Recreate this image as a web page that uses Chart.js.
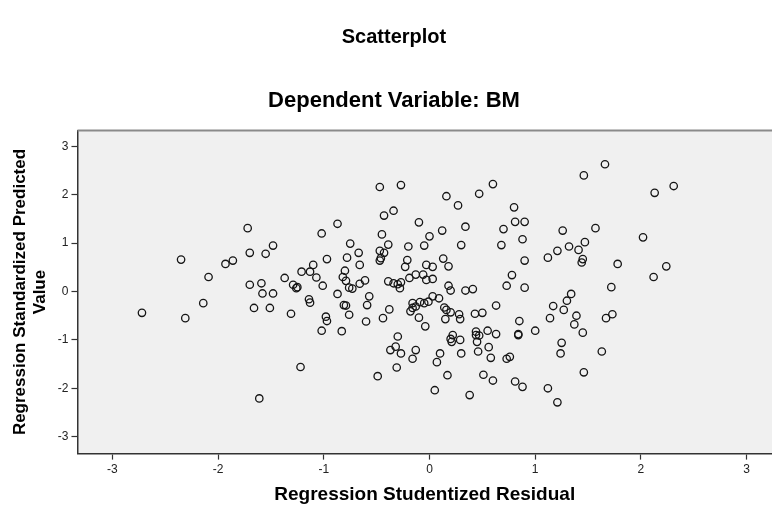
<!DOCTYPE html>
<html>
<head>
<meta charset="utf-8">
<script src="https://cdn.jsdelivr.net/npm/chart.js@4"></script>
<style>
  html, body { margin: 0; padding: 0; background: #fff; }
</style>
</head>
<body>
<canvas id="my-chart" width="772" height="505"></canvas>
<script>
// x: Regression Studentized Residual, y: Regression Standardized Predicted Value
const residuals = [
  -1.72, -1.70, -2.35, -1.93, -1.86, -2.09, -1.70,
  -2.72, -2.31, -2.14, -1.66, -1.61,
  -0.47, -0.27, -0.43, -0.34, -0.10, -0.87, -1.02, -0.45, -0.75, -0.39, -0.20, -0.05,
  -1.48, -1.55, -0.67, -0.47, -0.43, -0.78, -0.97, -0.66, -0.47, -0.46, -0.21, -0.23,
  -0.03, -1.10, -1.13, -1.21, -1.07, -0.80, -0.82, -0.79, -0.76, -0.73, -0.61, -0.66,
  -1.37, -1.59, -1.29, -1.25, -1.26, -1.01, -0.39, -0.34, -0.30, -0.27, -0.28, -0.19,
  -0.13, -0.06, -0.03, -1.58, -1.48, -0.87, -0.57,
  -1.51, -1.31, -1.14, -1.13, -0.98, -0.97, -1.02, -0.83, -0.81, -0.79, -0.76, -0.59,
  -0.60, -0.44, -0.38, -0.30, -0.32, -0.37, -0.27, -0.13, -0.16, -0.31, -0.49, -1.22,
  -0.16, -0.09, -0.13, -0.16, -0.18, -0.05, -0.10, -0.04,
  0.16, 0.47, 0.60, 0.27, 0.80, 0.81, 0.90, 1.46, 1.66, 0.00, 0.12, 0.34, 0.70, 0.88,
  1.26, 1.57, 0.30, 0.68, 0.13, 0.18, 0.03, 0.03, 0.90, 1.12, 1.21, 1.32, 1.47, 1.41,
  1.45, 1.44, 0.78, 0.73, 0.90, 0.18, 0.20, 0.34, 0.41, 1.34,
  0.03, 0.09, -0.01, 0.14, 0.16, 0.20, 0.15, 0.28, 0.29, 0.43, 0.50, 0.63, 0.22, 0.20,
  0.21, 0.29, 0.44, 0.44, 0.47, 0.45, 0.55, 0.63, 0.85, 0.84, 0.84, 1.00, 1.14, 1.17,
  1.27, 1.30, 1.39, 1.37, 1.45, 1.25, 1.24, 1.63, 0.10, 0.07, 0.30, 0.46, 0.56, 0.58,
  0.73, 0.76, 0.17, 0.51, 0.60, 0.81, 0.88, 1.12, 1.21, 1.46, 0.05, 0.38,
  2.13, 2.31, 2.02, 1.78, 2.24, 2.12, 1.72, 1.67, 1.73
];
const predicted = [
  1.31, 0.80, 0.66, 0.57, 0.64, 0.30, 0.14,
  -0.44, -0.55, -0.24, -0.34, -2.21,
  2.16, 2.20, 1.57, 1.67, 1.43, 1.40, 1.20, 1.18, 0.99, 0.97, 0.93, 0.95,
  0.95, 0.78, 0.80, 0.84, 0.80, 0.70, 0.67, 0.55, 0.64, 0.69, 0.65, 0.51,
  0.55, 0.55, 0.41, 0.41, 0.29, 0.43, 0.30, 0.22, 0.08, 0.06, 0.23, 0.16,
  0.28, 0.17, 0.14, 0.09, 0.07, 0.12, 0.21, 0.17, 0.15, 0.19, 0.07, 0.28,
  0.35, 0.35, 0.24, -0.04, -0.04, -0.05, -0.10,
  -0.34, -0.46, -0.16, -0.23, -0.52, -0.61, -0.81, -0.82, -0.28, -0.29, -0.48, -0.28,
  -0.62, -0.55, -0.37, -0.93, -1.14, -1.21, -1.28, -1.21, -1.39, -1.57, -1.75, -1.56,
  -0.24, -0.22, -0.31, -0.34, -0.41, -0.24, -0.54, -0.72,
  1.97, 2.02, 2.22, 1.78, 1.74, 1.44, 1.44, 2.40, 2.63, 1.14, 1.26, 1.34, 1.29, 1.08,
  1.26, 1.31, 0.96, 0.96, 0.68, 0.52, 0.51, 0.26, 0.64, 0.70, 0.84, 0.93, 1.02, 0.86,
  0.67, 0.60, 0.34, 0.12, 0.08, 0.12, 0.02, 0.02, 0.05, -0.05,
  -0.10, -0.14, -0.21, -0.33, -0.38, -0.43, -0.57, -0.47, -0.57, -0.46, -0.44, -0.29, -0.90, -0.98,
  -1.04, -1.00, -0.83, -0.90, -0.91, -1.04, -0.81, -0.88, -0.61, -0.88, -0.90, -0.81, -0.55, -0.30,
  -0.38, -0.19, -0.50, -0.68, -0.85, -1.06, -1.28, -1.24, -1.28, -1.46, -1.28, -1.24, -1.15, -1.37,
  -1.39, -1.35, -1.73, -1.72, -1.84, -1.86, -1.97, -2.00, -2.29, -1.67, -2.04, -2.14,
  2.04, 2.18, 1.12, 0.57, 0.52, 0.30, 0.09, -0.55, -0.47
];
const tickValues = [-3, -2, -1, 0, 1, 2, 3];

const points = residuals.map((x, i) => ({ x: x, y: predicted[i] }));

// grey plot background plus the top frame line
const plotFrame = {
  id: 'plotFrame',
  beforeDraw(chart) {
    const { ctx, chartArea: a } = chart;
    ctx.save();
    ctx.fillStyle = '#f0f0f0';
    ctx.fillRect(a.left, a.top, a.right - a.left, a.bottom - a.top);
    ctx.restore();
  },
  afterDraw(chart) {
    const { ctx, chartArea: a } = chart;
    ctx.save();
    ctx.strokeStyle = '#8a8a8a';
    ctx.lineWidth = 2;
    ctx.beginPath();
    ctx.moveTo(a.left, a.top);
    ctx.lineTo(a.right, a.top);
    ctx.stroke();
    ctx.restore();
  }
};

const fam = 'Liberation Sans, Arial, sans-serif';
const tickFont = { family: fam, size: 12 };

const ctx = document.getElementById('my-chart').getContext('2d');
new Chart(ctx, {
  type: 'scatter',
  data: {
    datasets: [
      {
        data: points,
        pointStyle: 'circle',
        pointRadius: 3.7,
        pointBorderWidth: 1.3,
        pointBorderColor: '#151515',
        pointBackgroundColor: 'rgba(0,0,0,0)',
      },
    ],
  },
  options: {
    responsive: false,
    animation: false,
    layout: { autoPadding: false, padding: { left: 16, right: 0, top: 0, bottom: 0 } },
    plugins: {
      legend: { display: false },
      tooltip: { enabled: false },
      title: {
        display: true,
        text: 'Scatterplot',
        color: '#000',
        font: { family: fam, size: 20, weight: 'bold' },
        padding: { top: 25, bottom: 39 },
      },
      subtitle: {
        display: true,
        text: 'Dependent Variable: BM',
        color: '#000',
        font: { family: fam, size: 22, weight: 'bold' },
        padding: { top: 0, bottom: 16 },
      },
    },
    scales: {
      x: {
        type: 'linear',
        position: 'bottom',
        min: -3.33,
        max: 3.24,
        afterBuildTicks: (scale) => {
          scale.ticks = tickValues.map((v) => ({ value: v }));
        },
        grid: { drawOnChartArea: false, tickLength: 6, color: '#333', tickWidth: 1.2 },
        border: { color: '#333', width: 1.5 },
        ticks: { color: '#222', font: tickFont, padding: 3 },
        title: {
          display: true,
          text: 'Regression Studentized Residual',
          color: '#000',
          font: { family: fam, size: 19, weight: 'bold', lineHeight: 1 },
          padding: { top: 5, bottom: 1 },
        },
      },
      y: {
        type: 'linear',
        min: -3.35,
        max: 3.33,
        afterBuildTicks: (scale) => {
          scale.ticks = tickValues.map((v) => ({ value: v }));
        },
        grid: { drawOnChartArea: false, tickLength: 6, color: '#333', tickWidth: 1.2 },
        border: { color: '#333', width: 1.5 },
        ticks: { color: '#222', font: tickFont, padding: 3 },
        title: {
          display: true,
          text: ['Regression Standardized Predicted', 'Value'],
          color: '#000',
          font: { family: fam, size: 17, weight: 'bold' },
          padding: { top: -6, bottom: 4 },
        },
      },
    },
  },
  plugins: [plotFrame],
});
</script>
</body>
</html>
